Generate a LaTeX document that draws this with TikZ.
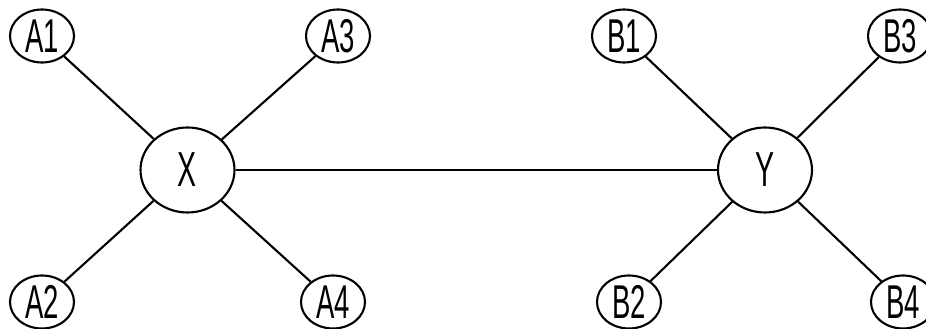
\documentclass[tikz,border=0pt]{standalone}
\usepackage{fontspec}
\setmainfont[FakeStretch=0.58]{Liberation Sans}
\usetikzlibrary{shapes.geometric}
\begin{document}
\begin{tikzpicture}[
    leaf/.style={draw, semithick, ellipse, minimum width=6.4mm, minimum height=5.3mm, inner sep=0pt, font=\fontsize{13.5}{15}\selectfont},
    hub/.style={draw, semithick, ellipse, minimum width=9.4mm, minimum height=8.5mm, inner sep=0pt, font=\fontsize{14}{16}\selectfont},
    edge/.style={semithick}]
  \useasboundingbox (0,0) rectangle (9.26,3.29);

  % hubs
  \node[hub] (X) at (1.875,1.59) {X};
  \node[hub] (Y) at (7.65,1.59)  {Y};

  % leaves of X
  \node[leaf] (A1) at (0.42,2.93) {A1};
  \node[leaf] (A2) at (0.42,0.27) {A2};
  \node[leaf] (A3) at (3.38,2.93) {A3};
  \node[leaf] (A4) at (3.33,0.27) {A4};

  % leaves of Y
  \node[leaf] (B1) at (6.24,2.93) {B1};
  \node[leaf] (B2) at (6.29,0.27) {B2};
  \node[leaf] (B3) at (9.00,2.93) {B3};
  \node[leaf] (B4) at (9.03,0.27) {B4};

  % X to its leaves
  \draw[edge] (X) -- (A1);
  \draw[edge] (X) -- (A2);
  \draw[edge] (X) -- (A3);
  \draw[edge] (X) -- (A4);

  % Y to its leaves
  \draw[edge] (Y) -- (B1);
  \draw[edge] (Y) -- (B2);
  \draw[edge] (Y) -- (B3);
  \draw[edge] (Y) -- (B4);

  % X to Y
  \draw[edge] (X) -- (Y);

\end{tikzpicture}
\end{document}
